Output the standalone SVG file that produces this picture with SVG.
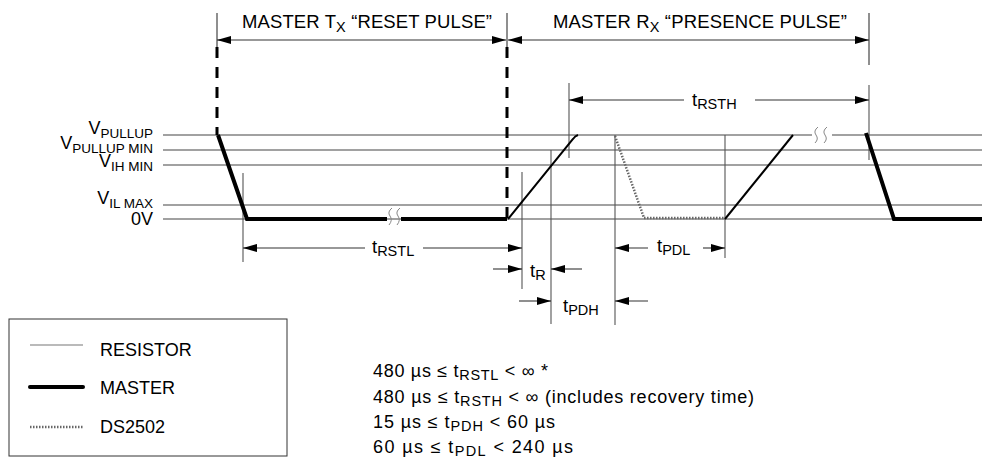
<svg xmlns="http://www.w3.org/2000/svg" width="982" height="464" viewBox="0 0 982 464">
<defs>
<style>
text{font-family:"Liberation Sans",Arial,sans-serif;fill:#000}
.lbl{font-size:18.5px}
.ax{font-size:18px}
.sub{font-size:14.5px}
.asub{font-size:13.5px}
.bt{font-size:18px}
.lvl{stroke:#444;stroke-width:1.1;fill:none}
.thin{stroke:#555;stroke-width:1.1;fill:none}
.dim{stroke:#333;stroke-width:1.1;fill:none}
.master{stroke:#000;stroke-width:4;fill:none}
.res{stroke:#000;stroke-width:2;fill:none}
.ds{stroke:#666;stroke-width:2.5;stroke-dasharray:1.5 1.5;fill:none}
.dash{stroke:#000;stroke-width:3;stroke-dasharray:11 9;fill:none}
.brk{stroke:#888;stroke-width:1;fill:none}
</style>
<marker id="ah" viewBox="0 0 14 8" refX="14" refY="4" markerWidth="14" markerHeight="8" markerUnits="userSpaceOnUse" orient="auto">
<path d="M0,0 L14,4 L0,8 Z" fill="#000"/>
</marker>
<marker id="ahs" viewBox="0 0 14 8" refX="0" refY="4" markerWidth="14" markerHeight="8" markerUnits="userSpaceOnUse" orient="auto">
<path d="M14,0 L0,4 L14,8 Z" fill="#000"/>
</marker>
</defs>
<rect width="982" height="464" fill="#fff"/>

<g id="levels">
<line class="lvl" x1="163" y1="135" x2="982" y2="135"/>
<line class="lvl" x1="163" y1="150" x2="982" y2="150"/>
<line class="lvl" x1="163" y1="165" x2="982" y2="165"/>
<line class="lvl" x1="163" y1="205" x2="982" y2="205"/>
<line class="lvl" x1="163" y1="219" x2="982" y2="219"/>
</g>

<g id="level-labels">
<text class="ax" x="153" y="134" text-anchor="end">V<tspan class="asub" dy="4">PULLUP</tspan></text>
<text class="ax" x="153" y="149" text-anchor="end">V<tspan class="asub" dy="4">PULLUP MIN</tspan></text>
<text class="ax" x="153" y="167" text-anchor="end">V<tspan class="asub" dy="4">IH MIN</tspan></text>
<text class="ax" x="153" y="204" text-anchor="end">V<tspan class="asub" dy="4">IL MAX</tspan></text>
<text class="ax" x="153" y="225" text-anchor="end">0V</text>
</g>

<g id="connectors">
<line class="dim" x1="217" y1="13" x2="217" y2="47"/>
<line class="dash" x1="217" y1="47" x2="217" y2="135"/>
<line class="dim" x1="507" y1="13" x2="507" y2="47"/>
<line class="dash" x1="507" y1="47" x2="507" y2="219"/>
<line class="dim" x1="869" y1="13" x2="869" y2="65"/>
<line class="dim" x1="217" y1="40" x2="506" y2="40" marker-start="url(#ahs)" marker-end="url(#ah)"/>
<line class="dim" x1="508" y1="40" x2="869" y2="40" marker-start="url(#ahs)" marker-end="url(#ah)"/>
<line class="thin" x1="569" y1="83" x2="569" y2="158"/>
<line class="thin" x1="869" y1="85" x2="869" y2="160"/>
<line class="dim" x1="569" y1="100" x2="684" y2="100" marker-start="url(#ahs)"/>
<line class="dim" x1="755" y1="100" x2="869" y2="100" marker-end="url(#ah)"/>
<line class="thin" x1="243" y1="173" x2="243" y2="262"/>
<line class="thin" x1="522" y1="172" x2="522" y2="289"/>
<line class="thin" x1="551" y1="150" x2="551" y2="324"/>
<line class="thin" x1="615" y1="135" x2="615" y2="325"/>
<line class="thin" x1="725" y1="135" x2="725" y2="258"/>
<line class="dim" x1="243" y1="248" x2="365" y2="248" marker-start="url(#ahs)"/>
<line class="dim" x1="423" y1="248" x2="522" y2="248" marker-end="url(#ah)"/>
<line class="dim" x1="493" y1="269" x2="522" y2="269" marker-end="url(#ah)"/>
<line class="dim" x1="582" y1="269" x2="551" y2="269" marker-end="url(#ah)"/>
<line class="dim" x1="519" y1="301" x2="551" y2="301" marker-end="url(#ah)"/>
<line class="dim" x1="648" y1="301" x2="615" y2="301" marker-end="url(#ah)"/>
<line class="dim" x1="648" y1="248" x2="615" y2="248" marker-end="url(#ah)"/>
<line class="dim" x1="703" y1="248" x2="725" y2="248" marker-end="url(#ah)"/>
</g>

<g id="waveforms">
<path class="master" d="M218,135 L247,219 L387,219 M401,219 L507,219"/>
<path class="res" d="M508,219 L573,139 Q575,136 578,135"/>
<path class="ds" d="M615,136 L644,218 L724,218"/>
<path class="res" d="M725,219 L793,135"/>
<path class="master" d="M866,133 L894,219 L982,219"/>
<rect x="812" y="130" width="20" height="10" fill="#fff"/>
<path class="brk" d="M818,127 Q813,131 816,135 Q819,139 815,143 M827,127 Q822,131 825,135 Q828,139 824,143"/>
<path class="brk" d="M392,208 Q387,212 390,216 Q393,220 389,225 M400,208 Q395,212 398,216 Q401,220 397,225"/>
</g>

<g id="labels">
<text class="lbl" x="242" y="28" textLength="250" lengthAdjust="spacing">MASTER T<tspan class="sub" dy="4">X</tspan><tspan dy="-4"> “RESET PULSE”</tspan></text>
<text class="lbl" x="553" y="28" textLength="294" lengthAdjust="spacing">MASTER R<tspan class="sub" dy="4">X</tspan><tspan dy="-4"> “PRESENCE PULSE”</tspan></text>
<text class="lbl" x="692" y="106">t<tspan class="sub" dy="3">RSTH</tspan></text>
<text class="lbl" x="372" y="253">t<tspan class="sub" dy="3">RSTL</tspan></text>
<text class="lbl" x="530" y="277">t<tspan class="sub" dy="3">R</tspan></text>
<text class="lbl" x="563" y="312">t<tspan class="sub" dy="3">PDH</tspan></text>
<text class="lbl" x="657" y="252">t<tspan class="sub" dy="3">PDL</tspan></text>
</g>

<g id="legend">
<rect x="9" y="319" width="278" height="137" fill="none" stroke="#333" stroke-width="1"/>
<line x1="30" y1="345" x2="83" y2="345" stroke="#777" stroke-width="1.2"/>
<text class="bt" x="100" y="356">RESISTOR</text>
<line x1="30" y1="387" x2="83" y2="387" stroke="#000" stroke-width="4" stroke-linecap="round"/>
<text class="bt" x="100" y="394">MASTER</text>
<line class="ds" x1="30" y1="427" x2="83" y2="427" stroke-width="2"/>
<text class="bt" x="100" y="433">DS2502</text>
</g>

<g id="specs">
<text class="bt" x="373" y="377" textLength="175" lengthAdjust="spacing">480 µs ≤ t<tspan class="sub" dy="3">RSTL</tspan><tspan dy="-3"> &lt; ∞ *</tspan></text>
<text class="bt" x="373" y="403" textLength="381" lengthAdjust="spacing">480 µs ≤ t<tspan class="sub" dy="3">RSTH</tspan><tspan dy="-3"> &lt; ∞ (includes recovery time)</tspan></text>
<text class="bt" x="373" y="428" textLength="182" lengthAdjust="spacing">15 µs ≤ t<tspan class="sub" dy="3">PDH</tspan><tspan dy="-3"> &lt; 60 µs</tspan></text>
<text class="bt" x="373" y="453" textLength="200" lengthAdjust="spacing">60 µs ≤ t<tspan class="sub" dy="3">PDL</tspan><tspan dy="-3"> &lt;  240 µs</tspan></text>
</g>
</svg>
